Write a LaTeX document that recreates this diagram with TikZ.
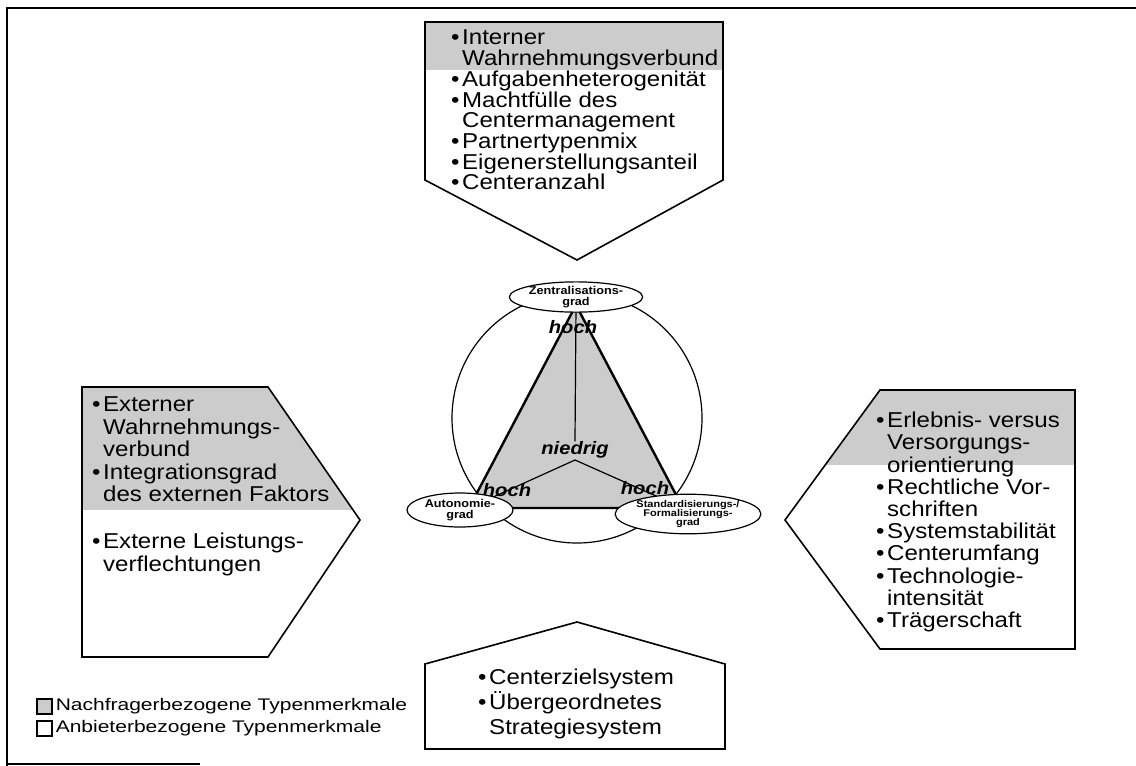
\documentclass[tikz,border=0pt]{standalone}
\usepackage{fontspec}
\setmainfont{Liberation Sans}[FakeStretch=1.12]
\newfontfamily\legendfont{Liberation Sans}[FakeStretch=1.25]
\usetikzlibrary{shapes.geometric,positioning}

\definecolor{raster}{gray}{0.80}
\newcommand{\bul}{\makebox[11pt][l]{\textbullet}}
\newcommand{\ind}{\hspace*{11pt}}

\tikzset{
  kasten/.style={draw, line width=1.6pt, line join=miter},
  merkmal/.style={anchor=north west, align=left, inner sep=0pt, font=\fontsize{21.5}{22.3}\selectfont},
  dimension/.style={ellipse, draw, line width=1.2pt, fill=white, inner sep=0pt, align=center,
    minimum width=106, font=\bfseries\fontsize{11.3}{10.8}\selectfont},
  auspraegung/.style={inner sep=0pt, font=\bfseries\itshape\fontsize{18}{18}\selectfont},
  legende/.style={inner sep=0pt, anchor=west, font=\legendfont\fontsize{16.8}{16.8}\selectfont},
}

\begin{document}
\begin{tikzpicture}[x=1pt, y=-1pt]
    \useasboundingbox (0,0) rectangle (1136,766);
    \draw[line width=1.6pt] (1136,8) -- (7,8) -- (7,766);
    \draw[line width=1.6pt] (7,764) -- (200,764);

    % oben
    \fill[raster] (425,22) rectangle (723,70);
    \draw[kasten] (425,22) -- (723,22) -- (723,180) -- (577,260) -- (425,180) -- cycle;
    \node[merkmal, font=\fontsize{21.5}{20.7}\selectfont] (intern) at (451,30)
        {\bul Interner\\ \ind Wahrnehmungsverbund\\ \bul Aufgabenheterogenität\\
         \bul Machtfülle des\\ \ind Centermanagement\\ \bul Partnertypenmix\\
         \bul Eigenerstellungsanteil\\ \bul Centeranzahl};

    % links
    \begin{scope}
        \clip (82,387) -- (268,387) -- (360,520) -- (268,657) -- (82,657) -- cycle;
        \fill[raster] (82,387) rectangle (360,510);
    \end{scope}
    \draw[kasten] (82,387) -- (268,387) -- (360,520) -- (268,657) -- (82,657) -- cycle;
    \node[merkmal, font=\fontsize{21.5}{22.5}\selectfont] (extern) at (92,397)
        {\bul Externer\\ \ind Wahrnehmungs-\\ \ind verbund\\ \bul Integrationsgrad\\ \ind des externen Faktors};
    \node[merkmal, font=\fontsize{21.5}{22.5}\selectfont] (leistung) at (92,533)
        {\bul Externe Leistungs-\\ \ind verflechtungen};

    % rechts
    \begin{scope}
        \clip (1075,390) -- (880,390) -- (785,520) -- (880,649) -- (1075,649) -- cycle;
        \fill[raster] (785,390) rectangle (1075,465);
    \end{scope}
    \draw[kasten] (1075,390) -- (880,390) -- (785,520) -- (880,649) -- (1075,649) -- cycle;
    \node[merkmal, font=\fontsize{21.5}{22.2}\selectfont] (umfeld) at (876,412)
        {\bul Erlebnis- versus\\ \ind Versorgungs-\\ \ind orientierung\\ \bul Rechtliche Vor-\\
         \ind schriften\\ \bul Systemstabilität\\ \bul Centerumfang\\ \bul Technologie-\\
         \ind intensität\\ \bul Trägerschaft};

    % unten
    \draw[kasten] (425,749) -- (425,664) -- (577,622) -- (725,664) -- (725,749) -- cycle;
    \node[merkmal, font=\fontsize{21.5}{25}\selectfont] (ziele) at (478,669)
        {\bul Centerzielsystem\\ \bul Übergeordnetes\\ \ind Strategiesystem};

    % Mitte
    \draw[line width=1.2pt] (577,418) circle (125);
    \coordinate (spitze) at (576,305);
    \coordinate (links) at (469,508);
    \coordinate (rechts) at (683,508);
    \coordinate (mitte) at (575,460);
    \filldraw[fill=raster, line width=2.4pt, line join=round] (spitze) -- (links) -- (rechts) -- cycle;
    \node[auspraegung] (niedrig) at (575,450) {niedrig};
    \draw[line width=1.2pt] (niedrig.north) -- (spitze);
    \draw[line width=1.2pt] (mitte) -- (links);
    \draw[line width=1.2pt] (mitte) -- (rechts);
    \node[auspraegung] (hochZ) at (573,327) {hoch};
    \node[auspraegung] (hochA) at (507,490) {hoch};
    \node[auspraegung] (hochS) at (645,488) {hoch};

    \node[dimension, minimum height=28] (zentral) at (576,297) {Zentralisations-\\grad};
    \node[dimension, minimum height=34] (autonomie) at (460,510) {Autonomie-\\grad};
    \node[dimension, minimum height=38, font=\bfseries\fontsize{9.8}{9.4}\selectfont] (standard) at (688,514)
        {Standardisierungs-/\\Formalisierungs-\\grad};

    % Legende
    \node[draw, fill=raster, line width=1.2pt, minimum size=15, inner sep=0pt] (nachfrage) at (44.5,706.5) {};
    \node[legende, right=3pt of nachfrage] (nachfragetext) {Nachfragerbezogene Typenmerkmale};
    \node[draw, line width=1.2pt, minimum size=15, inner sep=0pt] (anbieter) at (44.5,728.5) {};
    \node[legende, right=3pt of anbieter] (anbietertext) {Anbieterbezogene Typenmerkmale};
\end{tikzpicture}
\end{document}
